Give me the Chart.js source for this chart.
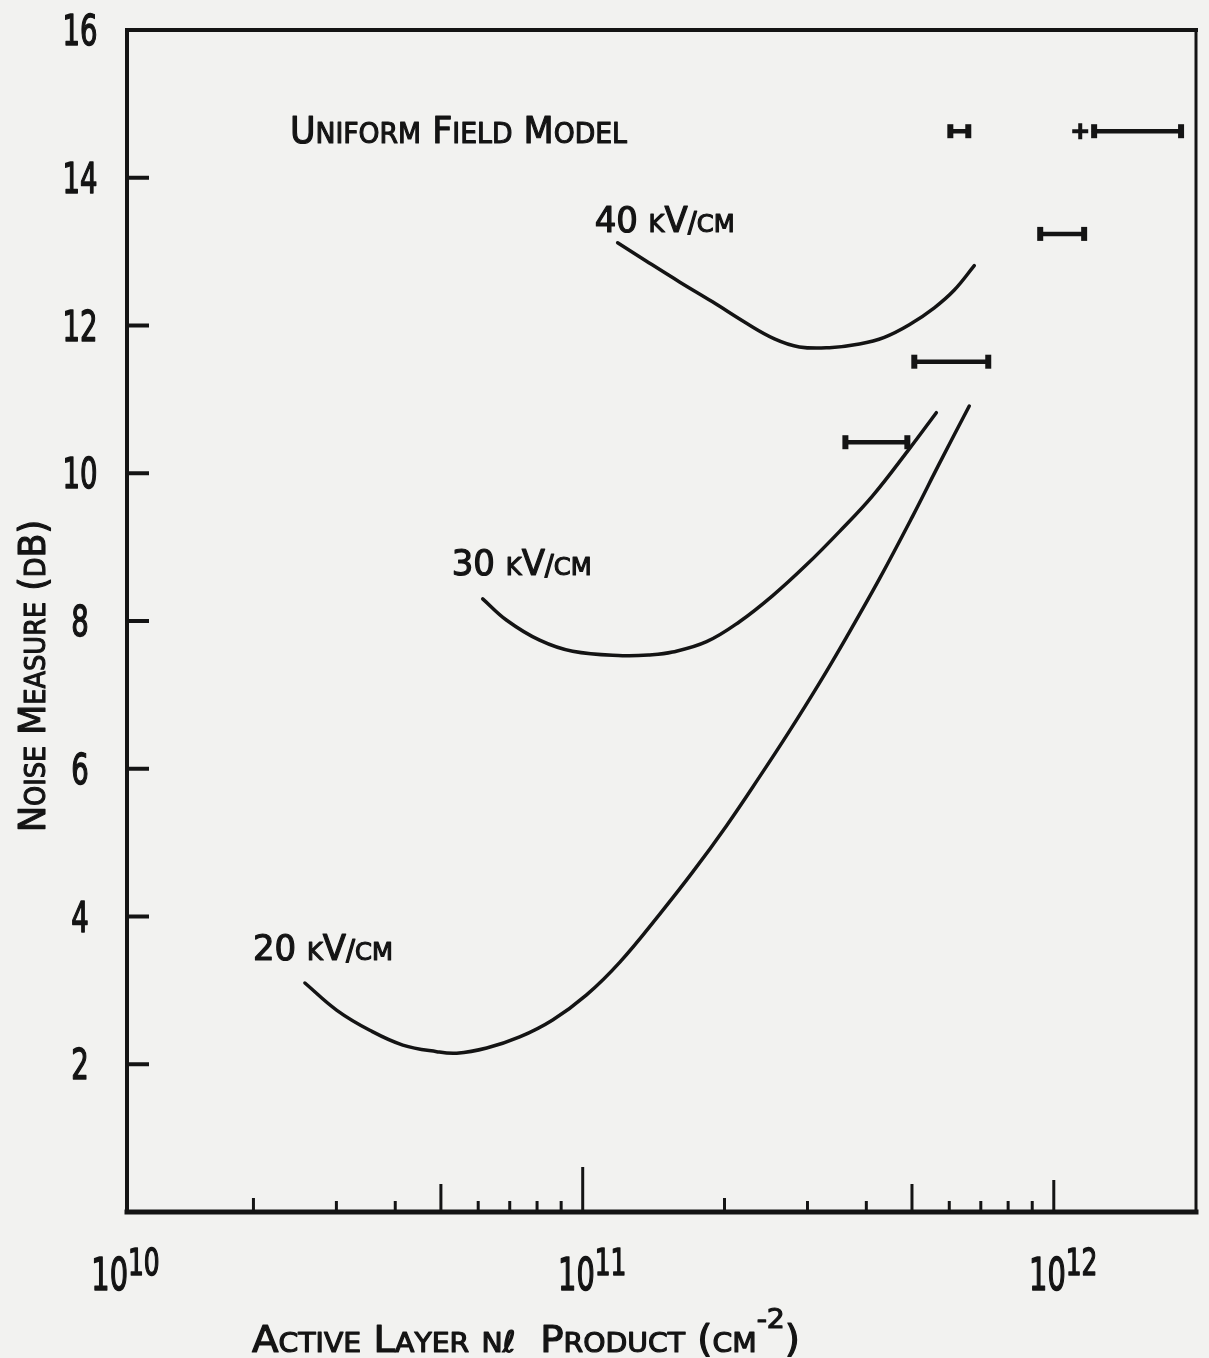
<!DOCTYPE html>
<html>
<head>
<meta charset="utf-8">
<script src="https://cdn.jsdelivr.net/npm/chart.js@4.4.1/dist/chart.umd.min.js"></script>
<style>
  html, body { margin: 0; padding: 0; background: #f2f2f0; }
  #wrap { width: 1209px; height: 1358px; position: relative; }
</style>
</head>
<body>
<div id="wrap"><canvas id="c" width="1209" height="1358"></canvas></div>
<script>
// ---------- data ----------
const xRange = [1.078e10, 2.004e12];
const yRange = [0, 16];

const x20 = [2.572e10, 3.007e10, 3.532e10, 4.150e10, 4.899e10, 5.402e10, 6.254e10, 7.348e10, 8.634e10, 1.019e11, 1.198e11, 1.456e11, 1.711e11, 2.020e11, 2.373e11, 2.747e11, 3.180e11, 3.629e11, 4.264e11, 5.008e11, 5.715e11, 6.616e11];
const y20 = [3.10, 2.73, 2.46, 2.26, 2.17, 2.15, 2.22, 2.37, 2.60, 2.94, 3.38, 4.03, 4.60, 5.23, 5.89, 6.51, 7.16, 7.78, 8.57, 9.41, 10.13, 10.91];

const x30 = [6.133e10, 6.896e10, 8.101e10, 9.519e10, 1.215e11, 1.387e11, 1.551e11, 1.832e11, 2.152e11, 2.528e11, 2.985e11, 3.507e11, 4.120e11, 4.935e11, 5.632e11];
const y30 = [8.30, 8.01, 7.74, 7.59, 7.53, 7.54, 7.58, 7.72, 7.99, 8.34, 8.76, 9.21, 9.69, 10.33, 10.82];

const x40 = [1.186e11, 1.366e11, 1.605e11, 1.886e11, 2.227e11, 2.553e11, 2.884e11, 3.339e11, 3.867e11, 4.368e11, 4.935e11, 5.577e11, 6.150e11, 6.780e11];
const y40 = [13.12, 12.87, 12.59, 12.32, 12.03, 11.82, 11.71, 11.70, 11.75, 11.84, 12.01, 12.24, 12.48, 12.81];

// horizontal range bars
const barY  = [14.63, 14.63, 13.24, 11.51, 10.42];
const barLo = [6.031e11, 1.218e12, 9.358e11, 5.057e11, 3.611e11];
const barHi = [6.584e11, 1.863e12, 1.160e12, 7.259e11, 4.888e11];
// single cross mark
const crossX = [1.138e12];
const crossY = [14.63];

const curveNames = ['20 kV/cm', '30 kV/cm', '40 kV/cm'];
const plotTitle = 'Uniform Field Model';
const xTitle = 'Active Layer nℓ  Product (cm^{-2})';
const yTitle = 'Noise Measure (dB)';

// ticks
const xMajor = [1e10, 1e11, 1e12];
const xMajorExp = ['10', '11', '12'];
const xMinor = [2e10, 3e10, 4e10, 5e10, 6e10, 7e10, 8e10, 9e10, 2e11, 3e11, 4e11, 5e11, 6e11, 7e11, 8e11, 9e11];
const yTicks = [2, 4, 6, 8, 10, 12, 14, 16];
const yTickLabels = ['2', '4', '6', '8', '10', '12', '14', '16'];

// ---------- drawing helpers ----------
const FONT = "'DejaVu Sans Condensed','Liberation Sans Narrow','DejaVu Sans',sans-serif";
const INK = '#141414';

function layoutText(ctx, str, o) {
  const parts = [];
  let i = 0;
  while (i < str.length) {
    if (str.startsWith('^{', i)) {
      const j = str.indexOf('}', i);
      for (const c of str.slice(i + 2, j)) parts.push({ c, f: o.sup, dy: -o.raise });
      i = j + 1;
      continue;
    }
    const c = str[i];
    if (/[a-z]/.test(c)) parts.push({ c: c.toUpperCase(), f: o.small, dy: 0 });
    else if (c === 'ℓ') parts.push({ c, f: o.small * 1.1, dy: 0 });
    else if (c === '/') parts.push({ c, f: o.small * 1.1, dy: 0 });
    else parts.push({ c, f: o.big, dy: 0 });
    i++;
  }
  let w = 0;
  for (const p of parts) {
    ctx.font = `${p.f}px ${FONT}`;
    p.w = ctx.measureText(p.c).width;
    w += p.w;
  }
  return { parts, w };
}

function drawStyled(ctx, str, x, y, o) {
  const L = layoutText(ctx, str, o);
  const sx = o.width ? o.width / L.w : (o.sx || 1);
  ctx.save();
  ctx.translate(x, y);
  if (o.rotate) ctx.rotate(o.rotate);
  ctx.scale(sx, 1);
  let cx = o.align === 'center' ? -L.w / 2 : (o.align === 'right' ? -L.w : 0);
  ctx.fillStyle = INK;
  ctx.strokeStyle = INK;
  ctx.lineWidth = o.stroke || 1.1;
  ctx.lineJoin = 'round';
  ctx.textBaseline = 'alphabetic';
  ctx.textAlign = 'left';
  for (const p of L.parts) {
    ctx.font = `${p.f}px ${FONT}`;
    ctx.fillText(p.c, cx, p.dy);
    ctx.strokeText(p.c, cx, p.dy);
    cx += p.w;
  }
  ctx.restore();
}

const decor = {
  id: 'decor',
  afterDraw(chart) {
    const ctx = chart.ctx;
    const a = chart.chartArea;
    const xs = chart.scales.x, ys = chart.scales.y;

    // frame
    ctx.save();
    ctx.strokeStyle = INK;
    ctx.lineCap = 'square';
    ctx.lineWidth = 4;
    ctx.beginPath();
    ctx.moveTo(a.left, a.bottom); ctx.lineTo(a.left, a.top); ctx.lineTo(a.right, a.top);
    ctx.stroke();
    ctx.lineWidth = 3;
    ctx.beginPath(); ctx.moveTo(a.right, a.top); ctx.lineTo(a.right, a.bottom); ctx.stroke();
    ctx.lineWidth = 5;
    ctx.beginPath(); ctx.moveTo(a.left, a.bottom); ctx.lineTo(a.right, a.bottom); ctx.stroke();

    // x ticks (pointing inward)
    ctx.lineWidth = 3;
    ctx.lineCap = 'butt';
    const allX = xMinor.concat(xMajor.slice(1));
    for (const v of allX) {
      const px = xs.getPixelForValue(v);
      const m = Math.round(v / Math.pow(10, Math.floor(Math.log10(v))));
      let len = 11;
      if (v === 1e11) len = 45;
      else if (v === 1e12) len = 32;
      else if (m === 5) len = 28;
      else if (m === 2) len = 14;
      ctx.beginPath(); ctx.moveTo(px, a.bottom); ctx.lineTo(px, a.bottom - len); ctx.stroke();
    }
    // y ticks
    ctx.lineWidth = 4;
    for (const v of yTicks) {
      if (v >= yRange[1]) continue;
      const py = ys.getPixelForValue(v);
      ctx.beginPath(); ctx.moveTo(a.left, py); ctx.lineTo(a.left + 22, py); ctx.stroke();
    }
    ctx.restore();

    // tick label condense factor based on "16" being ~35px wide
    ctx.font = `42px ${FONT}`;
    const sxTick = 35 / ctx.measureText('16').width;

    // y tick labels
    yTicks.forEach((v, i) => {
      const py = ys.getPixelForValue(v);
      drawStyled(ctx, yTickLabels[i], 80, py + 15, { big: 42, small: 30, sup: 30, raise: 0, sx: sxTick, align: 'center', stroke: 1.4 });
    });

    // x tick labels: 10^n (base "10" ends just right of the tick, exponent follows)
    xMajor.forEach((v, i) => {
      const px = Math.max(xs.getPixelForValue(v), a.left - 11);
      ctx.font = `44px ${FONT}`;
      const wBase = ctx.measureText('10').width * sxTick;
      drawStyled(ctx, '10^{' + xMajorExp[i] + '}', px + 12 - wBase, 1290, { big: 44, small: 30, sup: 38, raise: 15, sx: sxTick, stroke: 1.4 });
    });

    // axis titles
    drawStyled(ctx, xTitle, 252, 1352, { big: 37, small: 27, sup: 27, raise: 24, width: 548 });
    drawStyled(ctx, yTitle, 45, 676, { big: 38, small: 28, sup: 28, raise: 0, width: 312, align: 'center', rotate: -Math.PI / 2 });

    // plot title
    drawStyled(ctx, plotTitle, xs.getPixelForValue(2.390e10), ys.getPixelForValue(14.47), { big: 38, small: 29, sup: 29, raise: 0, width: 337 });

    // curve labels
    const labelAnchors = [[1.995e10, 3.41], [5.272e10, 8.62], [1.060e11, 13.27]];
    curveNames.forEach((t, i) => {
      const [lx, ly] = labelAnchors[i];
      drawStyled(ctx, t, xs.getPixelForValue(lx), ys.getPixelForValue(ly), { big: 35, small: 25, sup: 25, raise: 0, width: 140 });
    });
  }
};

// ---------- datasets ----------
function pts(xa, ya) { return xa.map((x, i) => ({ x, y: ya[i] })); }

const curveStyle = {
  showLine: true, borderColor: INK, borderWidth: 3.5, pointRadius: 0,
  tension: 0.4, fill: false, borderCapStyle: 'round', borderJoinStyle: 'round'
};

const datasets = [
  Object.assign({ label: curveNames[0], data: pts(x20, y20) }, curveStyle),
  Object.assign({ label: curveNames[1], data: pts(x30, y30) }, curveStyle),
  Object.assign({ label: curveNames[2], data: pts(x40, y40) }, curveStyle),
];
barY.forEach((y, i) => {
  datasets.push({
    label: 'range ' + (i + 1),
    data: [{ x: barLo[i], y }, { x: barHi[i], y }],
    showLine: true, borderColor: INK, borderWidth: 4.5,
    pointStyle: 'line', pointRotation: 90, pointRadius: 7, pointBorderWidth: 6,
    pointBorderColor: INK, pointBackgroundColor: INK, borderCapStyle: 'round'
  });
});
datasets.push({
  label: 'cross', data: pts(crossX, crossY), showLine: false,
  pointStyle: 'cross', pointRadius: 8, pointBorderWidth: 4, pointBorderColor: INK
});

new Chart(document.getElementById('c'), {
  type: 'scatter',
  data: { datasets },
  options: {
    responsive: false,
    animation: false,
    layout: { padding: { left: 127, top: 30, right: 12, bottom: 146 } },
    plugins: { legend: { display: false }, tooltip: { enabled: false } },
    scales: {
      x: {
        type: 'logarithmic', min: xRange[0], max: xRange[1],
        grid: { display: false, drawTicks: false }, border: { display: false },
        ticks: { display: false },
        afterBuildTicks: (s) => {
          s.ticks = xMajor.concat(xMinor).filter(v => v >= xRange[0] && v <= xRange[1]).sort((a, b) => a - b).map(v => ({ value: v }));
        }
      },
      y: {
        type: 'linear', min: yRange[0], max: yRange[1],
        grid: { display: false, drawTicks: false }, border: { display: false },
        ticks: { display: false },
        afterBuildTicks: (s) => { s.ticks = yTicks.map(v => ({ value: v })); }
      }
    }
  },
  plugins: [decor]
});
</script>
</body>
</html>
